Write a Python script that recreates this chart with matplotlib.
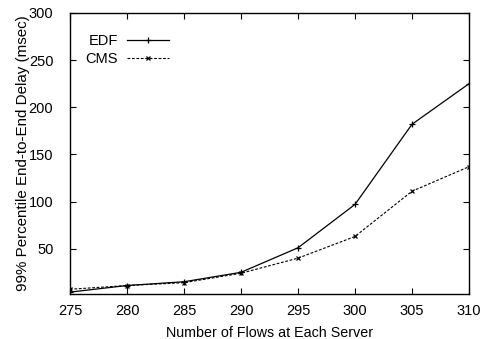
import matplotlib
matplotlib.use("Agg")
import matplotlib.pyplot as plt

plt.rcParams['font.family'] = ['Liberation Sans', 'DejaVu Sans']

flows = [275, 280, 285, 290, 295, 300, 305, 310]
edf = [4, 11, 15, 25, 51, 97, 182, 225]
cms = [7, 11, 14, 24, 40, 63, 111, 137]
yticks = [50, 100, 150, 200, 250, 300]

fs = 10.5
fig = plt.figure(figsize=(4.85, 3.39), dpi=100)
ax = fig.add_axes([70/485, 1-294/339, (469-70)/485, (294-13)/339])

ax.plot(flows, edf, '-', color='black', lw=0.9, marker='+', ms=4, mew=0.9, label='EDF')
ax.plot(flows, cms, '--', color='black', lw=0.8, dashes=(2.5, 1.5), marker='x', ms=3.5, mew=0.9, label='CMS')

ax.set_xlim(275, 310)
ax.set_ylim(2, 300)
ax.set_xticks(flows)
ax.set_yticks(yticks)
ax.tick_params(direction='in', top=True, right=True, labelsize=fs, length=4, width=0.8)
ax.tick_params(axis='x', pad=7)
ax.tick_params(axis='y', pad=12)
for s in ax.spines.values():
    s.set_linewidth(1.0)
ax.set_xlabel('Number of Flows at Each Server', fontsize=10.3, labelpad=6)
ax.set_ylabel('99% Percentile End-to-End Delay (msec)', fontsize=10.9, labelpad=-1)

leg = ax.legend(loc='upper left', bbox_to_anchor=(0.0175, 0.956), frameon=False, fontsize=fs,
                markerfirst=False, handlelength=2.9, handletextpad=0.6, labelspacing=0.25,
                borderaxespad=0.2)
for t in leg.get_texts():
    t.set_ha('right')

fig.savefig('out.png', dpi=100)
